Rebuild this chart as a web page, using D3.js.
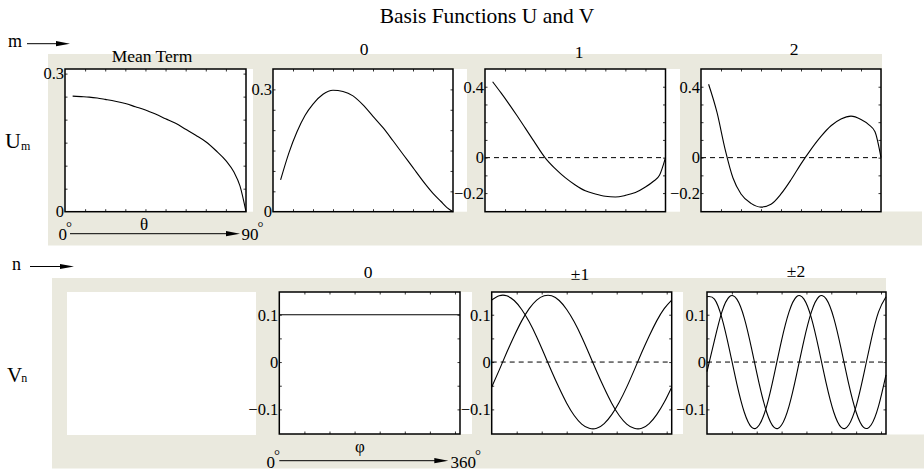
<!DOCTYPE html>
<html>
<head>
<meta charset="utf-8">
<script src="https://cdn.jsdelivr.net/npm/d3@7"></script>
<style>
  body { margin: 0; background: #fff; }
  svg text { font-family: "Liberation Serif", "Times New Roman", "DejaVu Serif", serif; }
</style>
</head>
<body>
<svg id="chart" width="924" height="472"></svg>
<script>
var thetaDeg = [3.8, 8, 12, 16, 20, 25, 30, 35, 40, 45, 50, 55, 60, 65, 70, 75, 80, 84, 87, 90];
var uMean = [0.251, 0.250, 0.249, 0.247, 0.244, 0.240, 0.235, 0.228, 0.221, 0.212, 0.202, 0.192, 0.179, 0.166, 0.152, 0.133, 0.111, 0.086, 0.056, 0];
var u0 = [0.078, 0.145, 0.196, 0.236, 0.264, 0.288, 0.298, 0.295, 0.284, 0.262, 0.234, 0.206, 0.174, 0.141, 0.108, 0.075, 0.045, 0.025, 0.010, 0];
var u1 = [0.428, 0.365, 0.302, 0.236, 0.168, 0.082, -0.001, -0.062, -0.113, -0.154, -0.187, -0.205, -0.218, -0.222, -0.213, -0.197, -0.166, -0.133, -0.100, 0];
var u2 = [0.414, 0.255, 0.050, -0.115, -0.205, -0.258, -0.279, -0.263, -0.205, -0.125, -0.035, 0.047, 0.120, 0.180, 0.218, 0.234, 0.215, 0.185, 0.146, 0];

var phiDeg = [0, 15, 30, 45, 60, 75, 90, 105, 120, 135, 150, 165, 180, 195, 210, 225, 240, 255, 270, 285, 300, 315, 330, 345, 360];
var v0 = [0.1, 0.1, 0.1, 0.1, 0.1, 0.1, 0.1, 0.1, 0.1, 0.1, 0.1, 0.1, 0.1, 0.1, 0.1, 0.1, 0.1, 0.1, 0.1, 0.1, 0.1, 0.1, 0.1, 0.1, 0.1];
var v1a = [-0.053, -0.017, 0.020, 0.055, 0.087, 0.113, 0.131, 0.140, 0.140, 0.130, 0.111, 0.085, 0.053, 0.017, -0.020, -0.055, -0.087, -0.113, -0.131, -0.140, -0.140, -0.130, -0.111, -0.085, -0.053];
var v1b = [0.131, 0.140, 0.140, 0.130, 0.111, 0.085, 0.053, 0.017, -0.020, -0.055, -0.087, -0.113, -0.131, -0.140, -0.140, -0.130, -0.111, -0.085, -0.053, -0.017, 0.020, 0.055, 0.087, 0.113, 0.131];
var v2a = [-0.020, 0.046, 0.106, 0.138, 0.133, 0.093, 0.027, -0.046, -0.106, -0.138, -0.133, -0.093, -0.027, 0.046, 0.106, 0.138, 0.133, 0.093, 0.027, -0.046, -0.106, -0.138, -0.133, -0.093, -0.027];
var v2b = [0.138, 0.133, 0.093, 0.027, -0.046, -0.106, -0.138, -0.133, -0.093, -0.027, 0.046, 0.106, 0.138, 0.133, 0.093, 0.027, -0.046, -0.106, -0.138, -0.133, -0.093, -0.027, 0.046, 0.106, 0.138];

var topHeaders = ["Mean Term", "0", "1", "2"];
var botHeaders = ["0", "\u00b11", "\u00b12"];

var beige = "#eae9de";
var serif = "Liberation Serif, Times New Roman, DejaVu Serif, serif";
var svg = d3.select("#chart");

// beige backgrounds
svg.append("rect").attr("x", 48).attr("y", 54).attr("width", 834).attr("height", 158).attr("fill", beige);
svg.append("rect").attr("x", 48).attr("y", 211.5).attr("width", 874).attr("height", 34).attr("fill", beige);
svg.append("rect").attr("x", 52).attr("y", 278).attr("width", 834).attr("height", 157).attr("fill", beige);
svg.append("rect").attr("x", 52).attr("y", 434.5).attr("width", 872).attr("height", 34).attr("fill", beige);
// empty panel in the bottom row
svg.append("rect").attr("x", 67).attr("y", 292).attr("width", 189).attr("height", 143).attr("fill", "#fff");

function fmt(d) { return d === 0 ? "0" : d3.format(".1f")(d); }

function txt(x, y, size, s, anchor) {
  return svg.append("text").attr("x", x).attr("y", y).attr("font-family", serif)
    .attr("font-size", size).attr("text-anchor", anchor || "start").text(s);
}

function panel(p) {
  var x = d3.scaleLinear().domain(p.xd).range([p.x0, p.x1]);
  var y = d3.scaleLinear().domain(p.yd).range([p.y1, p.y0]);
  var g = svg.append("g");
  g.append("rect").attr("x", p.x0).attr("y", p.y0).attr("width", p.wr - p.x0).attr("height", p.y1 - p.y0).attr("fill", "#fff");

  // inside ticks on all four sides
  function tk(axis, tr) {
    var a = g.append("g").attr("transform", tr).call(axis);
    a.select(".domain").remove();
    a.selectAll("line").attr("stroke", "#000").attr("stroke-width", 0.8);
  }
  tk(d3.axisBottom(x).tickValues(p.xt).tickSize(-2.5).tickFormat(""), "translate(0," + p.y1 + ")");
  tk(d3.axisTop(x).tickValues(p.xt).tickSize(-2.5).tickFormat(""), "translate(0," + p.y0 + ")");
  tk(d3.axisLeft(y).tickValues(p.yt).tickSize(-2.5).tickFormat(""), "translate(" + p.x0 + ",0)");
  tk(d3.axisRight(y).tickValues(p.yt).tickSize(-2.5).tickFormat(""), "translate(" + p.x1 + ",0)");

  // tick labels
  var lab = g.append("g").attr("transform", "translate(" + (p.x0 + 1) + ",0)")
    .call(d3.axisLeft(y).tickValues(p.ym).tickSize(0).tickPadding(2).tickFormat(fmt));
  lab.select(".domain").remove();
  lab.attr("font-family", serif).attr("font-size", 16.5);
  lab.selectAll("text").attr("font-family", serif).attr("fill", "#000");

  if (p.dashed) {
    g.append("line").attr("x1", p.x0).attr("x2", p.x1).attr("y1", y(0)).attr("y2", y(0))
      .attr("stroke", "#000").attr("stroke-width", 1).attr("stroke-dasharray", "5,4");
  }

  var line = d3.line().x(function(d) { return x(d[0]); }).y(function(d) { return y(d[1]); }).curve(p.curve);
  p.series.forEach(function(s) {
    g.append("path").datum(p.xs.map(function(v, i) { return [v, s[i]]; }))
      .attr("d", line).attr("fill", "none").attr("stroke", "#000").attr("stroke-width", 1.1);
  });

  g.append("rect").attr("x", p.x0).attr("y", p.y0).attr("width", p.x1 - p.x0).attr("height", p.y1 - p.y0)
    .attr("fill", "none").attr("stroke", "#000").attr("stroke-width", 1.5);

  txt(p.hx, p.hy, 17.5, p.header, "middle");
}

var topCfg = [
  { x0: 65, x1: 246, wr: 253, yd: [0, 0.31], ym: [0, 0.3], yt: d3.range(0.05, 0.31, 0.05), series: [uMean], dashed: false, hx: 152, hy: 62 },
  { x0: 273, x1: 453, wr: 467, yd: [0, 0.35], ym: [0, 0.3], yt: d3.range(0.05, 0.34, 0.05), series: [u0], dashed: false, hx: 364, hy: 55 },
  { x0: 485, x1: 665.5, wr: 680, yd: [-0.305, 0.5], ym: [-0.2, 0, 0.4], yt: d3.range(-0.2, 0.45, 0.1), series: [u1], dashed: true, hx: 579, hy: 58 },
  { x0: 701, x1: 881, wr: 881, yd: [-0.305, 0.5], ym: [-0.2, 0, 0.4], yt: d3.range(-0.2, 0.45, 0.1), series: [u2], dashed: true, hx: 794, hy: 55 }
];
topCfg.forEach(function(p, i) {
  p.header = topHeaders[i];
  p.xd = [0, 90]; p.xs = thetaDeg; p.xt = d3.range(10, 90, 10);
  p.y0 = 69; p.y1 = 211.7; p.curve = d3.curveMonotoneX;
  panel(p);
});

var botCfg = [
  { x0: 279.3, x1: 460, wr: 472, series: [v0], dashed: false, hx: 368, hy: 278 },
  { x0: 491.7, x1: 671.7, wr: 683, series: [v1a, v1b], dashed: true, hx: 580, hy: 280 },
  { x0: 707, x1: 886, wr: 886, series: [v2a, v2b], dashed: true, hx: 796, hy: 277 }
];
botCfg.forEach(function(p, i) {
  p.header = botHeaders[i];
  p.xd = [0, 360]; p.xs = phiDeg; p.xt = d3.range(50, 360, 50);
  p.yd = [-0.152, 0.148]; p.ym = [-0.1, 0, 0.1]; p.yt = [-0.1, -0.05, 0, 0.05, 0.1];
  p.y0 = 292; p.y1 = 434; p.curve = d3.curveNatural;
  panel(p);
});

// title and row / column annotations
txt(487, 23, 21.5, "Basis Functions U and V", "middle");

function arrow(x1, x2, yy) {
  svg.append("line").attr("x1", x1).attr("x2", x2 - 12).attr("y1", yy).attr("y2", yy).attr("stroke", "#000").attr("stroke-width", 1);
  svg.append("path").attr("d", "M" + (x2 - 14) + "," + (yy - 2.6) + "L" + x2 + "," + yy + "L" + (x2 - 14) + "," + (yy + 2.6) + "Z").attr("fill", "#000");
}

txt(8, 47, 18, "m");
arrow(27, 70, 43.7);
txt(12, 270, 18, "n");
arrow(30, 74, 266.5);

var um = txt(5, 148, 22, "");
um.append("tspan").text("U");
um.append("tspan").attr("font-size", 12).attr("dy", 1.5).text("m");
var vn = txt(7, 382, 21, "");
vn.append("tspan").text("V");
vn.append("tspan").attr("font-size", 12).attr("dx", -1).text("n");

// degree-labelled ends of the range arrows
function deg(x, y, s) {
  var t = txt(x, y, 17, "");
  t.append("tspan").text(s);
  t.append("tspan").attr("font-size", 15).attr("dx", -1).attr("dy", -8).text("\u00b0");
}

// theta range annotation
deg(58.5, 240, "0");
arrow(70, 240, 233.7);
txt(144, 230, 17, "\u03b8", "middle");
deg(241.5, 240, "90");

// phi range annotation
deg(266.5, 468, "0");
arrow(279.3, 448.3, 460.7);
txt(360, 452, 17, "\u03c6", "middle");
deg(450.5, 468, "360");
</script>
</body>
</html>
